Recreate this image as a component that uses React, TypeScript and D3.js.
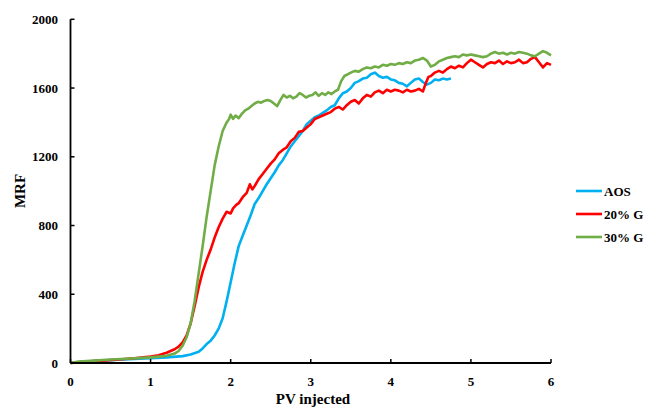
import React from "react";
import * as d3 from "d3";

const xTicks = [0, 1, 2, 3, 4, 5, 6];
const yTicks = [0, 400, 800, 1200, 1600, 2000];

const aosData: [number, number][] = [
  [0,0],[0.2,8],[0.4,14],[0.6,19],[0.8,24],[1.0,28],[1.2,33],[1.4,40],[1.5,50],[1.6,65],[1.65,85],[1.7,110],[1.75,130],[1.8,160],[1.85,200],[1.9,260],[1.95,360],[2.0,470],[2.05,580],[2.1,680],[2.15,740],[2.2,800],[2.25,860],[2.3,925],[2.35,960],[2.4,1000],[2.45,1040],[2.5,1075],[2.55,1110],[2.6,1150],[2.65,1180],[2.7,1220],[2.75,1260],[2.8,1290],[2.85,1320],[2.9,1350],[2.95,1390],[3.0,1410],[3.05,1430],[3.1,1440],[3.15,1455],[3.2,1470],[3.25,1490],[3.3,1500],[3.35,1540],[3.4,1570],[3.45,1580],[3.5,1600],[3.55,1630],[3.6,1640],[3.65,1655],[3.7,1660],[3.75,1680],[3.8,1690],[3.85,1670],[3.9,1660],[3.95,1665],[4.0,1650],[4.05,1645],[4.1,1630],[4.15,1625],[4.2,1610],[4.25,1630],[4.3,1650],[4.35,1655],[4.4,1635],[4.45,1620],[4.5,1630],[4.55,1650],[4.6,1645],[4.65,1655],[4.7,1650],[4.75,1655]
];

const g20Data: [number, number][] = [
  [0,0],[0.2,8],[0.4,14],[0.6,20],[0.8,28],[1.0,38],[1.1,45],[1.2,60],[1.3,80],[1.35,95],[1.4,120],[1.45,160],[1.5,230],[1.55,330],[1.6,440],[1.65,530],[1.7,600],[1.75,660],[1.8,730],[1.85,790],[1.9,840],[1.95,880],[2.0,870],[2.03,900],[2.07,920],[2.1,930],[2.15,965],[2.2,990],[2.24,1040],[2.27,1010],[2.3,1030],[2.35,1070],[2.4,1100],[2.45,1130],[2.5,1160],[2.55,1185],[2.6,1220],[2.65,1240],[2.7,1255],[2.75,1290],[2.8,1310],[2.85,1345],[2.9,1350],[2.95,1370],[3.0,1390],[3.05,1420],[3.1,1430],[3.15,1440],[3.2,1450],[3.25,1460],[3.3,1480],[3.35,1490],[3.4,1475],[3.45,1500],[3.5,1520],[3.55,1530],[3.6,1510],[3.65,1540],[3.7,1560],[3.75,1550],[3.8,1575],[3.85,1585],[3.9,1570],[3.95,1590],[4.0,1580],[4.05,1590],[4.1,1585],[4.15,1575],[4.2,1590],[4.25,1580],[4.3,1585],[4.35,1595],[4.4,1580],[4.43,1620],[4.47,1665],[4.5,1670],[4.55,1690],[4.6,1700],[4.65,1690],[4.7,1710],[4.75,1725],[4.8,1715],[4.85,1730],[4.9,1720],[4.95,1745],[5.0,1765],[5.05,1750],[5.1,1735],[5.15,1720],[5.2,1740],[5.25,1750],[5.3,1745],[5.35,1760],[5.4,1740],[5.45,1755],[5.5,1745],[5.55,1750],[5.6,1765],[5.65,1745],[5.7,1750],[5.75,1770],[5.8,1780],[5.85,1750],[5.9,1720],[5.95,1745],[6.0,1735]
];

const g30Data: [number, number][] = [
  [0,0],[0.1,8],[0.3,14],[0.5,20],[0.7,25],[0.9,30],[1.0,33],[1.1,37],[1.2,42],[1.3,55],[1.35,70],[1.4,100],[1.45,150],[1.5,230],[1.55,360],[1.6,520],[1.65,680],[1.7,850],[1.75,1000],[1.8,1150],[1.85,1260],[1.9,1350],[1.95,1400],[1.98,1420],[2.0,1445],[2.03,1420],[2.06,1440],[2.1,1425],[2.14,1450],[2.18,1470],[2.22,1480],[2.26,1495],[2.3,1510],[2.34,1520],[2.38,1515],[2.42,1525],[2.46,1530],[2.5,1525],[2.54,1510],[2.58,1495],[2.62,1530],[2.66,1560],[2.7,1545],[2.74,1555],[2.78,1540],[2.82,1550],[2.86,1570],[2.9,1560],[2.94,1545],[2.98,1555],[3.02,1560],[3.06,1575],[3.1,1555],[3.14,1570],[3.18,1560],[3.22,1575],[3.26,1565],[3.3,1580],[3.34,1590],[3.38,1640],[3.42,1670],[3.46,1680],[3.5,1690],[3.55,1700],[3.6,1695],[3.65,1710],[3.7,1720],[3.75,1715],[3.8,1725],[3.85,1720],[3.9,1735],[3.95,1730],[4.0,1740],[4.05,1735],[4.1,1745],[4.15,1740],[4.2,1750],[4.25,1745],[4.3,1760],[4.35,1765],[4.4,1775],[4.45,1760],[4.5,1725],[4.55,1735],[4.6,1755],[4.65,1765],[4.7,1775],[4.75,1780],[4.8,1785],[4.85,1780],[4.9,1795],[4.95,1790],[5.0,1795],[5.05,1790],[5.1,1785],[5.15,1780],[5.2,1785],[5.25,1800],[5.3,1810],[5.35,1800],[5.4,1805],[5.45,1795],[5.5,1805],[5.55,1800],[5.6,1810],[5.65,1805],[5.7,1800],[5.75,1790],[5.8,1785],[5.85,1800],[5.9,1815],[5.95,1805],[6.0,1790]
];

const seriesNames = ["AOS", "20% G", "30% G"];
const seriesColors = ["#00B0F0", "#FF0000", "#70AD47"];
const seriesData = [aosData, g20Data, g30Data];

export default function App() {
  const W = 651, H = 408;
  const x = d3.scaleLinear().domain([0, 6]).range([70.5, 551]);
  const y = d3.scaleLinear().domain([0, 2000]).range([363, 19.3]);
  const line = d3.line<[number, number]>().x(d => x(d[0])).y(d => y(d[1]));
  const font = "'Liberation Serif', 'Times New Roman', serif";
  return (
    <svg width={W} height={H} style={{ position: "absolute", left: 0, top: 0 }}>
      <rect width={W} height={H} fill="#fff" />
      {seriesData.map((d, i) => (
        <path key={i} d={line(d) || ""} fill="none" stroke={seriesColors[i]} strokeWidth={2.6} strokeLinejoin="round" />
      ))}
      <line x1={x(0)} x2={x(0)} y1={y(2000)} y2={y(0)} stroke="#000" strokeWidth={1.8} />
      <line x1={x(0)} x2={x(6)} y1={y(0)} y2={y(0)} stroke="#000" strokeWidth={1.8} />
      {yTicks.map(t => (
        <g key={t}>
          <line x1={x(0)} x2={x(0) + 4} y1={y(t)} y2={y(t)} stroke="#000" strokeWidth={1.5} />
          <text x={58} y={y(t)} dy="0.35em" textAnchor="end" fontFamily={font} fontWeight="bold" fontSize={13}>{t}</text>
        </g>
      ))}
      {xTicks.map(t => (
        <g key={t}>
          <line x1={x(t)} x2={x(t)} y1={y(0)} y2={y(0) - 4} stroke="#000" strokeWidth={1.5} />
          <text x={x(t)} y={386} textAnchor="middle" fontFamily={font} fontWeight="bold" fontSize={13}>{t}</text>
        </g>
      ))}
      <text x={313} y={404} textAnchor="middle" fontFamily={font} fontWeight="bold" fontSize={15}>PV injected</text>
      <text transform="translate(25,191) rotate(-90)" textAnchor="middle" fontFamily={font} fontWeight="bold" fontSize={15}>MRF</text>
      {seriesNames.map((n, i) => (
        <g key={n}>
          <line x1={576} x2={602} y1={191 + i * 23} y2={191 + i * 23} stroke={seriesColors[i]} strokeWidth={2.6} />
          <text x={604} y={191 + i * 23} dy="0.35em" fontFamily={font} fontWeight="bold" fontSize={13}>{n}</text>
        </g>
      ))}
    </svg>
  );
}
